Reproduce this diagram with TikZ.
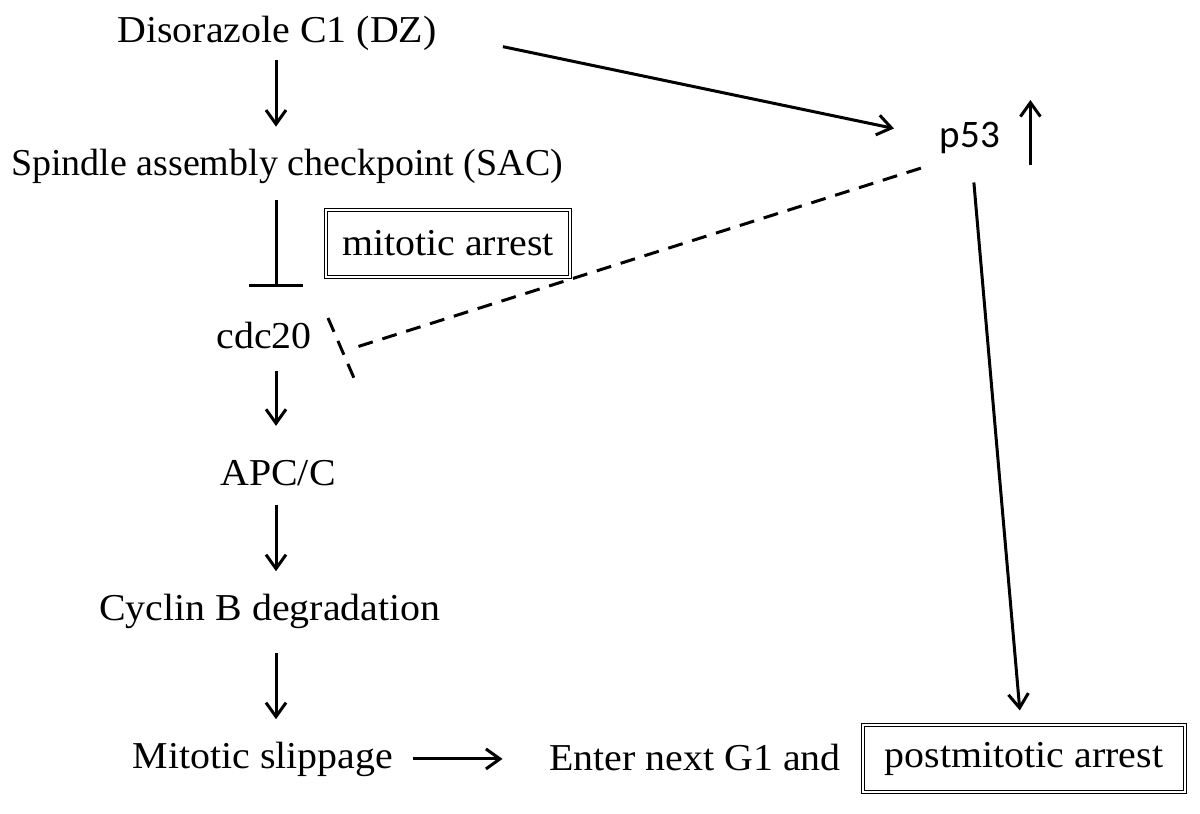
\documentclass[tikz,border=0pt]{standalone}
\usepackage{fontspec}
\setmainfont{Liberation Serif}
\newfontfamily\calibrifont{Carlito}
\usetikzlibrary{arrows.meta,calc}

\newcommand{\wide}[2][1.05]{\scalebox{#1}[1]{#2}}

\tikzset{
  lbl/.style={inner sep=0pt,anchor=base,font=\fontsize{19pt}{22pt}\selectfont},
  arrestbox/.style={draw,double,double distance=1.2pt,line width=0.6pt,minimum height=33.5pt,inner sep=0pt,font=\fontsize{19pt}{22pt}\selectfont},
  act/.style={line width=1.5pt,-{Straight Barb[length=7pt,width=10pt]}},
  inh/.style={line width=1.5pt,-{Bar[width=27pt]}},
  dashinh/.style={line width=1.5pt,dash pattern=on 7.5pt off 5pt},
}

\begin{document}
\begin{tikzpicture}[x=0.5pt,y=0.5pt,yscale=-1,xscale=1]
\useasboundingbox (0,0) rectangle (1200,814);

% Text Node
\node[lbl] (dz) at (277,42) {\wide{Disorazole C1 (DZ)}};
% Text Node
\node[lbl] (sac) at (287,175) {Spindle assembly checkpoint (SAC)};
% Text Node
\node[arrestbox,minimum width=122pt] (marrest) at (448,243.5) {\wide{mitotic arrest}};
% Text Node
\node[lbl] (cdc) at (264,348) {\wide{cdc20}};
% Text Node
\node[lbl] (apc) at (278,485) {\wide{APC/C}};
% Text Node
\node[lbl] (cyclin) at (270,620) {\wide{Cyclin B degradation}};
% Text Node
\node[lbl] (slip) at (263,768) {\wide{Mitotic slippage}};
% Text Node
\node[lbl] (g1) at (695,770) {\wide{Enter next G1 and}};
% Text Node
\node[arrestbox,minimum width=161pt] (postarrest) at (1024,758.5) {\wide{postmitotic arrest}};
% Text Node
\node[inner sep=0pt,font=\calibrifont\fontsize{19.5pt}{22pt}\selectfont] (p53) at (970,138) {p53};

\coordinate (spine) at (276,0);
\coordinate (bartop) at (328,318);
\coordinate (barbot) at (357,385);

%Straight Lines
\draw[act,shorten <=4.9pt,shorten >=10.8pt] (dz.south -| spine) -- (sac.north -| spine);
%Straight Lines
\draw[inh,shorten <=8.4pt,shorten >=17pt] (sac.south -| spine) -- (cdc.north -| spine);
%Straight Lines
\draw[act,shorten <=11pt,shorten >=16.8pt] (cdc.south -| spine) -- (apc.north -| spine);
%Straight Lines
\draw[act,shorten <=9.7pt,shorten >=11pt] (apc.south -| spine) -- (cyclin.north -| spine);
%Straight Lines
\draw[act,shorten <=12.4pt,shorten >=11pt] (cyclin.south -| spine) -- (slip.north -| spine);
%Straight Lines
\draw[act,shorten <=9.5pt,shorten >=23.2pt] (slip.east) -- (slip.east -| g1.west);
%Straight Lines
\draw[act,shorten <=33.7pt,shorten >=23.3pt] (dz.east) -- (p53.west);
%Straight Lines
\draw[act,shorten <=14.2pt,shorten >=7pt] (p53) -- (postarrest);
%Straight Lines
\draw[act] ($(p53.east)+(30,27)$) -- ($(p53.east)+(30,-38)$);
%Straight Lines
\draw[dashinh,shorten <=9.8pt,shorten >=8.1pt] ($(p53.south west)+(0,8)$) -- ($(bartop)!0.5!(barbot)$);
%Straight Lines
\draw[dashinh] (bartop) -- (barbot);

\end{tikzpicture}
\end{document}
